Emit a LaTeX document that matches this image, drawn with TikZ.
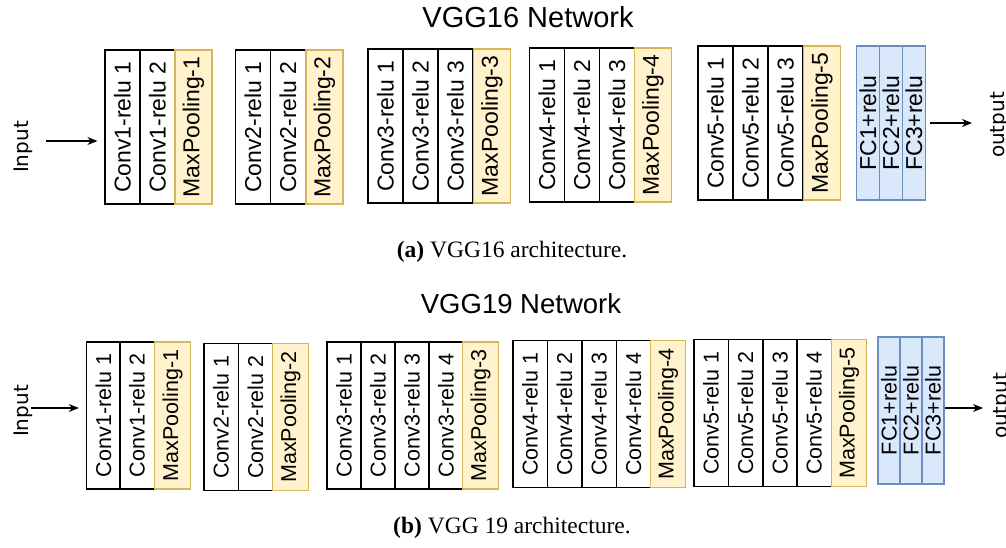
\documentclass[tikz,border=0pt]{standalone}
\usepackage{fontspec}
\setmainfont{Liberation Serif}
\newfontfamily\boxfont{Liberation Sans}
\newfontfamily\iofont{DejaVu Sans}
\usetikzlibrary{arrows.meta}
\definecolor{poolfill}{HTML}{FFF2CC}
\definecolor{pooldraw}{HTML}{D6B656}
\definecolor{fcfill}{HTML}{DAE8FC}
\definecolor{fcdraw}{HTML}{6C8EBF}

\begin{document}
\begin{tikzpicture}[x=1pt,y=-1pt,
    layer/.style={draw, rotate=90, inner sep=0pt, minimum width=154pt, line width=1.2pt,
      font=\boxfont\fontsize{23}{24}\selectfont},
    conv/.style={layer, fill=white, draw=black, minimum height=35pt},
    pool/.style={layer, fill=poolfill, draw=pooldraw, minimum height=37pt},
    fc/.style={layer, fill=fcfill, draw=fcdraw, minimum height=23pt},
    io/.style={rotate=90, anchor=base, inner sep=0pt, font=\iofont\fontsize{20}{20}\selectfont},
    title/.style={anchor=base, inner sep=0pt, font=\boxfont\fontsize{29}{30}\selectfont},
    caption/.style={anchor=base, inner sep=0pt, font=\fontsize{23.5}{25}\selectfont},
    arr/.style={-{Stealth[length=10pt,width=8pt]}, line width=1.2pt}]
  \useasboundingbox (0,0) rectangle (1006,547);

  % VGG16
  \node[title] (t16) at (528,27) {VGG16 Network};
  \node[io] (in16) at (28,147) {Input};
  \node[conv] (ca11) at (122.5,127) {Conv1-relu 1};
  \node[conv] (ca12) at (157.5,127) {Conv1-relu 2};
  \node[pool] (pa1) at (193.5,127) {MaxPooling-1};
  \node[conv] (ca21) at (253,127) {Conv2-relu 1};
  \node[conv] (ca22) at (288,127) {Conv2-relu 2};
  \node[pool] (pa2) at (324.5,127) {MaxPooling-2};
  \node[conv] (ca31) at (385.5,126) {Conv3-relu 1};
  \node[conv] (ca32) at (420.5,126) {Conv3-relu 2};
  \node[conv] (ca33) at (455.5,126) {Conv3-relu 3};
  \node[pool] (pa3) at (492,126) {MaxPooling-3};
  \node[conv] (ca41) at (547,125) {Conv4-relu 1};
  \node[conv] (ca42) at (582,125) {Conv4-relu 2};
  \node[conv] (ca43) at (617,125) {Conv4-relu 3};
  \node[pool] (pa4) at (653,125) {MaxPooling-4};
  \node[conv] (ca51) at (715.5,123) {Conv5-relu 1};
  \node[conv] (ca52) at (750.5,123) {Conv5-relu 2};
  \node[conv] (ca53) at (785.5,123) {Conv5-relu 3};
  \node[pool] (pa5) at (822,123) {MaxPooling-5};
  \node[fc] (fa1) at (868,123) {FC1+relu};
  \node[fc] (fa2) at (891,123) {FC2+relu};
  \node[fc] (fa3) at (914,123) {FC3+relu};
  \node[io] (out16) at (1004.5,125) {output};
  \coordinate (sa) at (46,141);
  \coordinate (ea) at (972,123);
  \draw[arr, shorten >=7pt] (sa) -- (sa -| ca11.north);
  \draw[arr, shorten <=4pt] (fa3.south) -- (ea);
  \node[caption] (capa) at (512,257) {\textbf{(a)} VGG16 architecture.};

  % VGG19
  \node[title, font=\boxfont\fontsize{27.5}{28}\selectfont] (t19) at (521,313) {VGG19 Network};
  \begin{scope}[layer/.append style={minimum width=147pt, font=\boxfont\fontsize{21.5}{22}\selectfont},
      conv/.append style={minimum height=34.2pt},
      pool/.append style={minimum height=35.5pt},
      fc/.append style={minimum height=22pt}]
    \node[io] (in19) at (28,411) {Input};
    \node[conv] (cb11) at (103.5,415.5) {Conv1-relu 1};
    \node[conv] (cb12) at (137,415.5) {Conv1-relu 2};
    \node[pool] (pb1) at (172.5,415.5) {MaxPooling-1};
    \node[conv] (cb21) at (221,417) {Conv2-relu 1};
    \node[conv] (cb22) at (255.5,417) {Conv2-relu 2};
    \node[pool] (pb2) at (290.5,417) {MaxPooling-2};
    \node[conv] (cb31) at (344,415.5) {Conv3-relu 1};
    \node[conv] (cb32) at (378,415.5) {Conv3-relu 2};
    \node[conv] (cb33) at (412,415.5) {Conv3-relu 3};
    \node[conv] (cb34) at (446,415.5) {Conv3-relu 4};
    \node[pool] (pb3) at (480.5,415.5) {MaxPooling-3};
    \node[conv] (cb41) at (530,414) {Conv4-relu 1};
    \node[conv] (cb42) at (564.5,414) {Conv4-relu 2};
    \node[conv] (cb43) at (599,414) {Conv4-relu 3};
    \node[conv] (cb44) at (633.5,414) {Conv4-relu 4};
    \node[pool] (pb4) at (668,414) {MaxPooling-4};
    \node[conv] (cb51) at (711,413) {Conv5-relu 1};
    \node[conv] (cb52) at (745.5,413) {Conv5-relu 2};
    \node[conv] (cb53) at (780,413) {Conv5-relu 3};
    \node[conv] (cb54) at (814,413) {Conv5-relu 4};
    \node[pool] (pb5) at (849,413) {MaxPooling-5};
    \node[fc] (fb1) at (889,410.5) {FC1+relu};
    \node[fc] (fb2) at (911,410.5) {FC2+relu};
    \node[fc] (fb3) at (933,410.5) {FC3+relu};
    \node[io] (out19) at (1007.5,406) {output};
  \end{scope}
  \coordinate (sb) at (31,408);
  \coordinate (eb) at (983,408);
  \draw[arr, shorten >=7pt] (sb) -- (sb -| cb11.north);
  \draw[arr] (eb -| fb3.south) -- (eb);
  \node[caption] (capb) at (512,533) {\textbf{(b)} VGG 19 architecture.};
\end{tikzpicture}
\end{document}
